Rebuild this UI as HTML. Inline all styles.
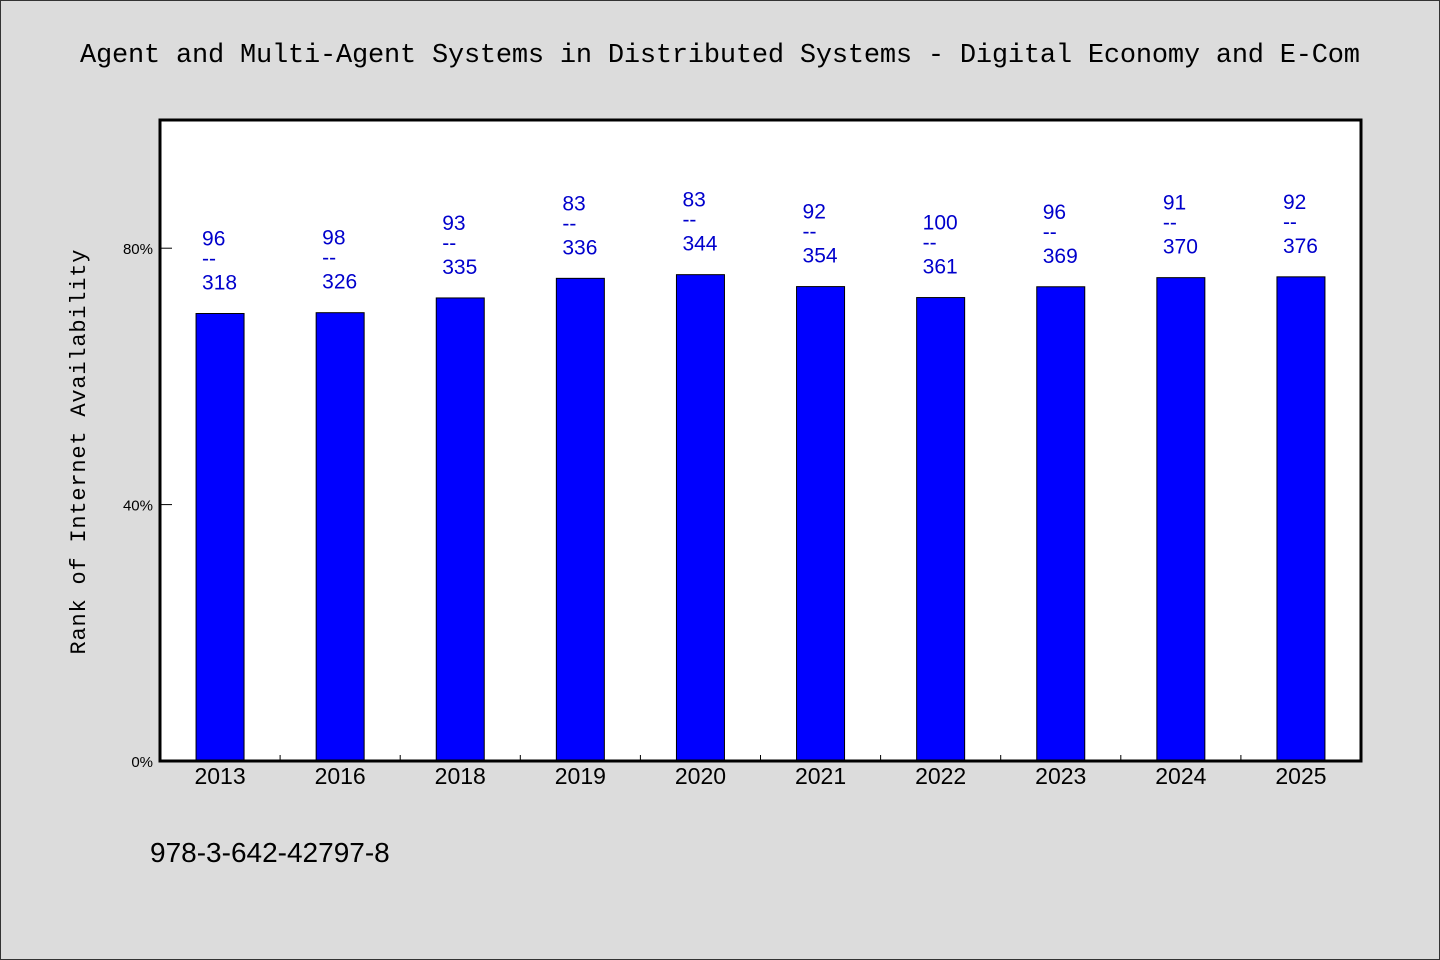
<!DOCTYPE html>
<html><head><meta charset="utf-8"><style>
html,body{margin:0;padding:0;background:#dcdcdc;}
svg{display:block;}
</style></head><body>
<svg id="chart" width="1440" height="960" xmlns="http://www.w3.org/2000/svg">
<rect x="0.5" y="0.5" width="1439" height="959" fill="#dcdcdc" stroke="#333"/>
<text x="720" y="62" text-anchor="middle" font-family="Liberation Mono, monospace" font-size="27" textLength="1280" fill="#000">Agent and Multi-Agent Systems in Distributed Systems - Digital Economy and E-Com</text>
<rect x="160" y="120" width="1201" height="641" fill="#fff"/>
<g id="bars"></g>
<g id="axes"></g>
<rect x="160" y="120" width="1201" height="641" fill="none" stroke="#000" stroke-width="3"/>
<text transform="translate(85,452) rotate(-90)" text-anchor="middle" font-family="Liberation Mono, monospace" font-size="22" textLength="405">Rank of Internet Availability</text>
<text x="150" y="862" font-family="Liberation Sans, sans-serif" font-size="28">978-3-642-42797-8</text>
</svg>
<script>
const years = ["2013","2016","2018","2019","2020","2021","2022","2023","2024","2025"];
const ranks = [96,98,93,83,83,92,100,96,91,92];
const totals = [318,326,335,336,344,354,361,369,370,376];
const yTicks = [0,40,80];

const NS="http://www.w3.org/2000/svg";
const L=160,R=1361,T=120,B=761,yMax=100;
const band=(R-L)/years.length;
const xc=i=>L+band*(i+0.5);
const y=v=>B-(v/yMax)*(B-T);
function mk(tag,attrs,parent,text){const e=document.createElementNS(NS,tag);for(const k in attrs)e.setAttribute(k,attrs[k]);if(text!==undefined)e.textContent=text;parent.appendChild(e);return e;}
const gb=document.getElementById('bars'), ga=document.getElementById('axes');
years.forEach((yr,i)=>{
  const pct=(1-ranks[i]/totals[i])*100;
  const top=y(pct), cx=xc(i);
  const r=mk('rect',{x:cx-24,y:top,width:48,height:B-top,fill:'#0000ff',stroke:'#000','stroke-width':1},gb);
  
  
  const f={'font-family':'Liberation Sans, sans-serif','font-size':21,fill:'#0000cc'};
  const t1=mk('text',Object.assign({x:cx-18,y:top-68},f),gb,String(ranks[i]));
  
  
  const t2=mk('text',Object.assign({x:cx-18,y:top-48},f),gb,'--');
  
  
  const t3=mk('text',Object.assign({x:cx-18,y:top-24},f),gb,String(totals[i]));
  
  
  const xl=mk('text',{x:cx,y:B+23,'text-anchor':'middle','font-family':'Liberation Sans, sans-serif','font-size':23,fill:'#000'},ga,yr);
  
  
  if(i>0){const tk=mk('line',{x1:L+band*i,x2:L+band*i,y1:B,y2:B-6,stroke:'#000','stroke-width':1},ga);
  
  }
});
yTicks.forEach(v=>{
  const tk=mk('line',{x1:L,x2:L+12,y1:y(v),y2:y(v),stroke:'#000','stroke-width':1},ga);
  
  
  const tl=mk('text',{x:L-7,y:y(v)+6,'text-anchor':'end','font-family':'Liberation Sans, sans-serif','font-size':15,fill:'#000'},ga,v+'%');
  
  
});
</script>
</body></html>
